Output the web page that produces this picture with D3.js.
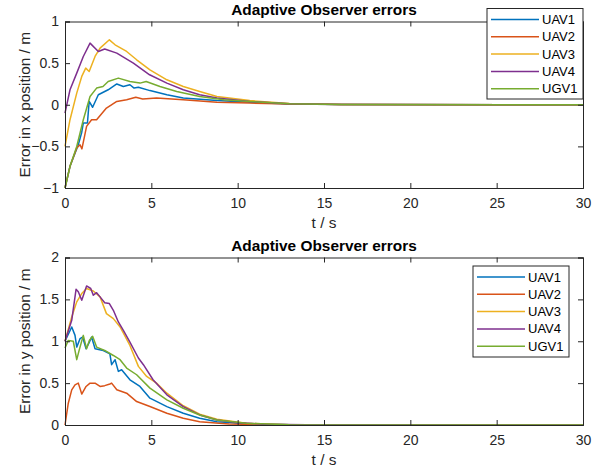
<!DOCTYPE html>
<html>
<head>
<meta charset="utf-8">
<script src="https://cdn.jsdelivr.net/npm/d3@7"></script>
<style>
  body { margin: 0; background: #fff; }
  svg { display: block; font-family: "Liberation Sans", Arial, sans-serif; }
</style>
</head>
<body>
<div id="chart"></div>
<script>
// series names + MATLAB default colour order
const seriesNames = ["UAV1", "UAV2", "UAV3", "UAV4", "UGV1"];
const seriesColors = ["#0072BD", "#D95319", "#EDB120", "#7E2F8E", "#77AC30"];

const xTicks = [0, 5, 10, 15, 20, 25, 30];
const yTicksTop = [-1, -0.5, 0, 0.5, 1];
const yTicksBottom = [0, 0.5, 1, 1.5, 2];

// x position errors, [t, error]
const xErrUAV1 = [[0,-1],[0.29,-0.74],[0.77,-0.48],[0.97,-0.33],[1.06,-0.22],[1.3,-0.22],[1.4,0.04],[1.6,-0.03],[1.93,0.12],[2.5,0.18],[3.0,0.25],[3.38,0.22],[3.76,0.24],[4.0,0.2],[4.25,0.21],[4.92,0.17],[5.9,0.12],[6.85,0.08],[8.8,0.05],[10.7,0.03],[13,0.01],[16,0.003],[30,0]];
const xErrUAV2 = [[0,-1],[0.29,-0.74],[0.68,-0.52],[0.87,-0.48],[0.98,-0.53],[1.25,-0.26],[1.54,-0.18],[1.83,-0.18],[2.4,-0.04],[3.0,0.04],[3.57,0.06],[4.1,0.09],[4.5,0.07],[5.3,0.08],[6.85,0.06],[8.8,0.03],[10.7,0.02],[13,0.008],[16,0.002],[30,0]];
const xErrUAV3 = [[0,-0.5],[0.29,-0.18],[0.68,0.14],[0.97,0.34],[1.2,0.44],[1.4,0.4],[1.74,0.58],[2.03,0.68],[2.57,0.78],[2.9,0.72],[3.57,0.64],[4.15,0.54],[4.92,0.42],[5.9,0.3],[6.85,0.22],[7.8,0.16],[8.8,0.1],[10.7,0.05],[13,0.015],[16,0.004],[30,0]];
const xErrUAV4 = [[0,-0.1],[0.29,0.18],[0.68,0.38],[1.06,0.58],[1.45,0.74],[1.93,0.64],[2.3,0.67],[3.0,0.62],[3.96,0.5],[4.9,0.36],[5.9,0.26],[6.85,0.18],[7.8,0.12],[8.8,0.08],[10.7,0.04],[13,0.012],[16,0.003],[30,0]];
const xErrUGV1 = [[0,-1],[0.29,-0.74],[0.68,-0.5],[1.06,-0.18],[1.45,0.1],[1.83,0.2],[2.2,0.22],[2.5,0.28],[3.09,0.32],[3.76,0.28],[4.34,0.26],[4.7,0.28],[5.5,0.22],[6.47,0.16],[7.8,0.1],[9.2,0.06],[10.7,0.04],[13,0.012],[16,0.003],[30,0]];

// y position errors
const yErrUAV1 = [[0,1.0],[0.39,1.17],[0.58,1.07],[0.68,0.93],[0.87,1.03],[1.02,1.05],[1.22,0.91],[1.41,0.99],[1.54,1.05],[1.74,0.91],[2.22,0.89],[2.6,0.85],[2.7,0.72],[2.9,0.78],[3.09,0.64],[3.28,0.66],[3.76,0.54],[4.34,0.46],[4.92,0.32],[5.9,0.22],[6.85,0.14],[7.8,0.08],[8.8,0.04],[10.5,0.015],[13,0.003],[30,0]];
const yErrUAV2 = [[0,0],[0.19,0.26],[0.39,0.42],[0.58,0.48],[0.77,0.5],[0.97,0.37],[1.22,0.46],[1.45,0.5],[1.74,0.5],[2.03,0.46],[2.3,0.47],[2.6,0.49],[2.7,0.5],[3.0,0.42],[3.57,0.38],[4.15,0.28],[4.92,0.22],[5.9,0.14],[6.85,0.08],[7.8,0.04],[9.5,0.012],[12,0.002],[30,0]];
const yErrUAV3 = [[0,1.0],[0.39,1.29],[0.68,1.47],[0.97,1.57],[1.25,1.63],[1.64,1.6],[2.03,1.53],[2.4,1.33],[2.8,1.27],[3.19,1.17],[3.76,0.95],[4.25,0.7],[4.73,0.58],[5.3,0.5],[5.9,0.38],[6.85,0.23],[7.8,0.13],[8.8,0.07],[10.5,0.02],[13,0.004],[30,0]];
const yErrUAV4 = [[0,1.0],[0.39,1.25],[0.64,1.62],[0.77,1.59],[0.97,1.49],[1.25,1.66],[1.49,1.63],[1.64,1.55],[1.83,1.58],[2.03,1.53],[2.3,1.46],[2.57,1.45],[2.8,1.37],[3.09,1.23],[3.38,1.13],[3.76,0.99],[4.25,0.8],[4.54,0.72],[5.1,0.54],[5.9,0.36],[6.85,0.22],[7.8,0.12],[8.8,0.06],[9.9,0.03],[11.5,0.01],[14,0.002],[30,0]];
const yErrUGV1 = [[0,0.92],[0.19,1.01],[0.48,1.0],[0.68,0.78],[0.83,0.9],[1.06,1.07],[1.25,0.91],[1.41,1.01],[1.6,1.06],[1.83,0.93],[2.3,0.89],[2.8,0.83],[3.19,0.78],[3.57,0.68],[4.15,0.6],[4.92,0.44],[5.9,0.3],[6.85,0.2],[7.8,0.12],[8.8,0.06],[10.5,0.02],[13,0.004],[30,0]];

const width = 609, height = 475;
const axisColor = "#262626";

const svg = d3.select("#chart").append("svg")
  .attr("width", width)
  .attr("height", height);

// draws one subplot: box, inward ticks on all four sides, lines, labels, legend
function drawPanel(opts) {
  const x = d3.scaleLinear().domain([0, 30]).range([opts.left, opts.right]);
  const y = d3.scaleLinear().domain(opts.yDomain).range([opts.bottom, opts.top]);

  const g = svg.append("g");

  // lines
  const line = d3.line().x(d => x(d[0])).y(d => y(d[1]));
  opts.series.forEach((s, i) => {
    g.append("path")
      .datum(s)
      .attr("fill", "none")
      .attr("stroke", seriesColors[i])
      .attr("stroke-width", 1.5)
      .attr("stroke-linejoin", "round")
      .attr("d", line);
  });

  // axes (ticks inward, box on)
  const tickLen = 5;
  g.append("g")
    .attr("transform", "translate(0," + opts.bottom + ")")
    .call(d3.axisBottom(x).tickValues(xTicks).tickSize(-tickLen).tickPadding(10).tickFormat(d3.format("d")));
  g.append("g")
    .attr("transform", "translate(0," + opts.top + ")")
    .call(d3.axisTop(x).tickValues(xTicks).tickSize(-tickLen).tickFormat(""));
  g.append("g")
    .attr("transform", "translate(" + opts.left + ",0)")
    .call(d3.axisLeft(y).tickValues(opts.yTicks).tickSize(-tickLen).tickPadding(6).tickFormat(d => d3.format("")(d)));
  g.append("g")
    .attr("transform", "translate(" + opts.right + ",0)")
    .call(d3.axisRight(y).tickValues(opts.yTicks).tickSize(-tickLen).tickFormat(""));

  g.selectAll(".domain").attr("stroke", axisColor).attr("stroke-width", 1);
  g.selectAll(".tick line").attr("stroke", axisColor).attr("stroke-width", 1);
  g.selectAll(".tick text")
    .attr("fill", axisColor)
    .style("font-size", "14px")
    .style("font-family", "Liberation Sans, Arial, sans-serif");

  // title
  svg.append("text")
    .attr("x", (opts.left + opts.right) / 2)
    .attr("y", opts.top - 7)
    .attr("text-anchor", "middle")
    .style("font-size", "15.4px")
    .style("font-weight", "bold")
    .attr("fill", "#000")
    .text("Adaptive Observer errors");

  // x label
  svg.append("text")
    .attr("x", (opts.left + opts.right) / 2)
    .attr("y", opts.bottom + 40)
    .attr("text-anchor", "middle")
    .style("font-size", "15.4px")
    .attr("fill", axisColor)
    .text("t / s");

  // y label
  svg.append("text")
    .attr("transform", "translate(30," + ((opts.top + opts.bottom) / 2) + ") rotate(-90)")
    .attr("text-anchor", "middle")
    .style("font-size", "15.4px")
    .attr("fill", axisColor)
    .text(opts.yLabel);

  // legend
  const lg = svg.append("g").attr("transform", "translate(" + opts.legend.x + "," + opts.legend.y + ")");
  lg.append("rect")
    .attr("width", opts.legend.w)
    .attr("height", opts.legend.h)
    .attr("fill", "#fff")
    .attr("stroke", axisColor)
    .attr("stroke-width", 1);
  seriesNames.forEach((name, i) => {
    const yy = 11 + i * 17.3;
    lg.append("line")
      .attr("x1", 4).attr("x2", 52)
      .attr("y1", yy).attr("y2", yy)
      .attr("stroke", seriesColors[i])
      .attr("stroke-width", 1.5);
    lg.append("text")
      .attr("x", 55)
      .attr("y", yy + 4.5)
      .style("font-size", "13px")
      .attr("fill", "#000")
      .text(name);
  });
}

drawPanel({
  left: 65, right: 583, top: 21.5, bottom: 188,
  yDomain: [-1, 1], yTicks: yTicksTop,
  yLabel: "Error in x position / m",
  series: [xErrUAV1, xErrUAV2, xErrUAV3, xErrUAV4, xErrUGV1],
  legend: { x: 487, y: 8.5, w: 96, h: 90.5 }
});

drawPanel({
  left: 65, right: 583, top: 257.5, bottom: 425,
  yDomain: [0, 2], yTicks: yTicksBottom,
  yLabel: "Error in y position / m",
  series: [yErrUAV1, yErrUAV2, yErrUAV3, yErrUAV4, yErrUGV1],
  legend: { x: 473, y: 266, w: 96, h: 91 }
});
</script>
</body>
</html>
